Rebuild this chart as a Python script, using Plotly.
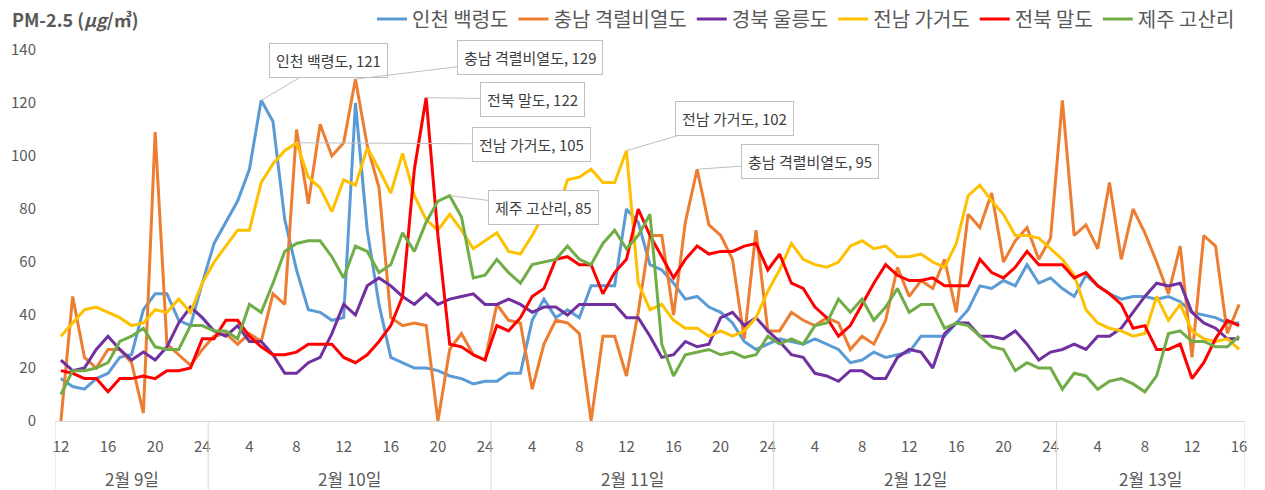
import plotly.graph_objects as go

# ---------------- data ----------------
days = ["2월 9일", "2월 10일", "2월 11일", "2월 12일", "2월 13일"]
day_hours = [
    [12, 13, 14, 15, 16, 17, 18, 19, 20, 21, 22, 23, 24],
    [1, 2, 3, 4, 5, 6, 7, 8, 9, 10, 11, 12, 13, 14, 15, 16, 17, 18, 19, 20, 21, 22, 23, 24],
    [1, 2, 3, 4, 5, 6, 7, 8, 9, 10, 11, 12, 13, 14, 15, 16, 17, 18, 19, 20, 21, 22, 23, 24],
    [1, 2, 3, 4, 5, 6, 7, 8, 9, 10, 11, 12, 13, 14, 15, 16, 17, 18, 19, 20, 21, 22, 23, 24],
    [1, 2, 3, 4, 5, 6, 7, 8, 9, 10, 11, 12, 13, 14, 15, 16],
]

incheon = [16, 13, 12, 16, 18, 24, 25, 42, 48, 48, 38, 36, 52, 67, 75, 83, 95, 121, 113, 76,
           57, 42, 41, 38, 39, 120, 72, 44, 24, 22, 20, 20, 19, 17, 16, 14, 15, 15, 18, 18,
           38, 46, 39, 42, 39, 51, 51, 51, 80, 75, 59, 57, 52, 46, 47, 43, 41, 37, 30, 27,
           29, 31, 30, 29, 31, 29, 27, 22, 23, 26, 24, 25, 26, 32, 32, 32, 37, 42, 51, 50,
           53, 51, 59, 52, 54, 50, 47, 55, 51, 48, 46, 47, 47, 46, 47, 45, 41, 40, 39, 37, 37]
chungnam = [0, 47, 24, 20, 27, 27, 22, 3, 109, 29, 25, 21, 27, 32, 33, 29, 33, 30, 48, 44,
            110, 82, 112, 100, 105, 129, 104, 88, 39, 36, 37, 36, 0, 27, 33, 25, 23, 44, 38, 37,
            12, 29, 38, 37, 33, 0, 32, 32, 17, 41, 70, 70, 40, 75, 95, 74, 70, 61, 31, 72,
            34, 34, 41, 38, 36, 39, 37, 27, 32, 29, 38, 58, 47, 53, 50, 61, 41, 78, 73, 86,
            60, 68, 73, 61, 69, 121, 70, 74, 65, 90, 61, 80, 71, 60, 48, 66, 24, 70, 66, 33, 44]
gyeongbuk = [23, 19, 20, 27, 32, 27, 23, 26, 23, 28, 37, 43, 39, 34, 32, 36, 30, 30, 25, 18,
             18, 22, 24, 33, 44, 40, 51, 54, 51, 47, 44, 48, 44, 46, 47, 48, 44, 44, 46, 44,
             41, 43, 43, 40, 44, 44, 44, 44, 39, 39, 32, 24, 25, 30, 28, 29, 39, 41, 36, 39,
             34, 30, 25, 24, 18, 17, 15, 19, 19, 16, 16, 24, 27, 26, 20, 33, 37, 37, 32, 32,
             31, 34, 29, 23, 26, 27, 29, 27, 32, 32, 35, 41, 47, 52, 51, 52, 41, 37, 35, 31, 31]
jeonnam = [32, 37, 42, 43, 41, 39, 36, 37, 42, 41, 46, 41, 52, 60, 66, 72, 72, 90, 97, 102,
           105, 92, 88, 79, 91, 89, 103, 95, 86, 101, 85, 76, 72, 78, 72, 65, 68, 71, 64, 63,
           70, 78, 77, 91, 92, 95, 90, 90, 102, 52, 42, 44, 38, 35, 35, 32, 34, 32, 34, 39,
           49, 57, 67, 61, 59, 58, 60, 66, 68, 65, 66, 62, 62, 63, 60, 58, 67, 85, 89, 83,
           78, 70, 70, 69, 65, 61, 55, 42, 37, 35, 34, 32, 33, 47, 38, 44, 34, 31, 30, 31, 27]
jeonbuk = [19, 18, 16, 16, 11, 16, 16, 17, 16, 19, 19, 20, 31, 31, 38, 38, 32, 28, 25, 25,
           26, 29, 29, 29, 24, 22, 25, 30, 36, 47, 95, 122, 70, 29, 28, 25, 23, 36, 34, 39,
           47, 50, 61, 62, 59, 59, 48, 56, 61, 80, 70, 62, 54, 61, 66, 63, 64, 64, 66, 67,
           57, 63, 52, 50, 43, 39, 32, 36, 44, 52, 59, 55, 53, 53, 54, 51, 51, 51, 61, 56,
           54, 58, 64, 59, 59, 59, 54, 56, 51, 48, 44, 35, 36, 27, 27, 29, 16, 22, 31, 38, 36]
jeju = [10, 19, 19, 20, 22, 30, 32, 35, 28, 27, 27, 36, 36, 34, 34, 31, 44, 41, 52, 64,
        67, 68, 68, 62, 54, 66, 64, 56, 59, 71, 64, 75, 83, 85, 77, 54, 55, 61, 56, 52,
        59, 60, 61, 66, 61, 59, 67, 72, 65, 70, 78, 29, 17, 25, 26, 27, 25, 26, 24, 25,
        32, 29, 31, 29, 36, 37, 46, 41, 46, 38, 43, 50, 41, 44, 44, 35, 37, 36, 32, 28,
        27, 19, 22, 20, 20, 12, 18, 17, 12, 15, 16, 14, 11, 17, 33, 34, 30, 30, 28, 28, 32]

series_names = ["인천 백령도", "충남 격렬비열도", "경북 울릉도", "전남 가거도", "전북 말도", "제주 고산리"]
series_values = [incheon, chungnam, gyeongbuk, jeonnam, jeonbuk, jeju]
series_colors = ["#5B9BD5", "#ED7D31", "#7030A0", "#FFC000", "#FF0000", "#70AD47"]

# callouts: (series index, point index, label x, label y)
callouts = [
    (0, 17, 22.7, 136.0),
    (1, 25, 39.8, 137.0),
    (4, 31, 40.0, 121.5),
    (3, 20, 39.9, 104.5),
    (5, 33, 41.0, 80.7),
    (3, 48, 57.2, 114.0),
    (1, 54, 63.6, 98.0),
]

# ---------------- build ----------------
hours = [h for hs in day_hours for h in hs]
n = len(hours)
xs = list(range(n))

FONT = "Noto Sans CJK KR, Malgun Gothic, sans-serif"
GREY = "#595959"
PLOT_H = 490 - 50 - 69

fig = go.Figure()
for name, vals, col in zip(series_names, series_values, series_colors):
    fig.add_trace(go.Scatter(x=xs, y=vals, mode="lines", name=name,
                             line=dict(color=col, width=3), hoverinfo="skip"))

tick_idx = list(range(0, n, 4))
fig.update_xaxes(range=[-0.5, n - 0.5], tickmode="array", tickvals=tick_idx,
                 ticktext=[str(hours[i]) for i in tick_idx], showgrid=False,
                 zeroline=False, showline=True, linecolor="#d9d9d9", linewidth=1,
                 ticks="", tickfont=dict(family=FONT, size=15, color=GREY),
                 ticklabelstandoff=12)
fig.update_yaxes(range=[0, 140], tickvals=list(range(0, 141, 20)), showgrid=False,
                 zeroline=False, showline=False, ticks="",
                 tickfont=dict(family=FONT, size=15, color=GREY), ticklabelstandoff=18)

# day separators and labels
start = -0.5
shapes = []
annotations = []
bounds = [start]
for d, hs in zip(days, day_hours):
    end = start + len(hs)
    annotations.append(dict(x=(start + end) / 2, y=-57 / PLOT_H, xref="x", yref="paper",
                            yanchor="middle", text=d, showarrow=False,
                            font=dict(family=FONT, size=17, color=GREY)))
    bounds.append(end)
    start = end
for b in bounds:
    shapes.append(dict(type="line", xref="x", yref="paper", x0=b, x1=b, y0=0,
                       y1=-69 / PLOT_H, line=dict(color="#d9d9d9", width=1)))

for si, pi, lx, ly in callouts:
    v = series_values[si][pi]
    annotations.append(dict(x=pi, y=v, xref="x", yref="y", ax=lx, ay=ly, axref="x", ayref="y",
                            text=f"{series_names[si]}, {v}", showarrow=True, arrowhead=0,
                            arrowwidth=1, arrowcolor="#bfbfbf", standoff=0,
                            bgcolor="white", bordercolor="#bfbfbf", borderwidth=1, borderpad=6,
                            font=dict(family=FONT, size=15, color="#404040")))

annotations.append(dict(x=-45 / 1190, y=1 + 31 / PLOT_H, xref="paper", yref="paper",
                        xanchor="left", yanchor="middle", showarrow=False,
                        text="<b>PM-2.5 (<i>μg</i>/㎥)</b>",
                        font=dict(family=FONT, size=18, color=GREY)))

fig.update_layout(
    width=1265, height=490,
    margin=dict(l=55, r=20, t=50, b=69, autoexpand=False),
    paper_bgcolor="white", plot_bgcolor="white",
    showlegend=True,
    legend=dict(orientation="h", x=(372 - 55) / 1190, y=1 + 31 / PLOT_H,
                xanchor="left", yanchor="middle",
                font=dict(family=FONT, size=20, color=GREY), itemwidth=30,
                tracegroupgap=0, bgcolor="rgba(0,0,0,0)"),
    shapes=shapes, annotations=annotations,
    font=dict(family=FONT),
)

fig.write_html("out.html", config={"displayModeBar": False},
               post_script="document.body.style.margin='0';document.body.style.overflow='hidden';")
